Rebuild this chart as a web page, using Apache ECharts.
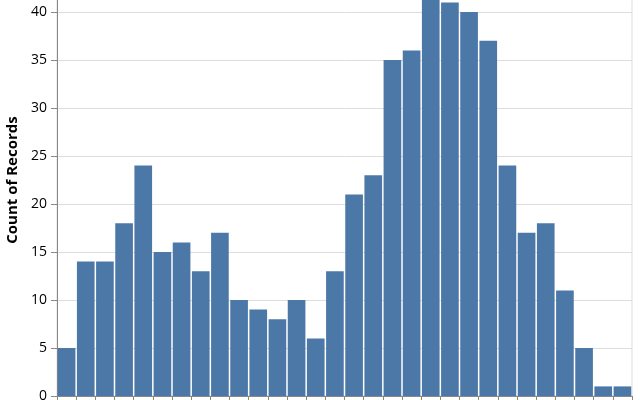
<!DOCTYPE html>
<html>
<head>
<meta charset="utf-8">
<script src="https://cdn.jsdelivr.net/npm/echarts@6/dist/echarts.min.js"></script>
<style>
  html, body { margin: 0; padding: 0; background: #fff; }
  #main { width: 640px; height: 400px; }
</style>
</head>
<body>
<div id="main"></div>
<script>
// 30 equal-width bins and their record counts
const bins = [];
for (let i = 0; i < 30; i++) bins.push('bin' + (i + 1));
const counts = [5, 14, 14, 18, 24, 15, 16, 13, 17, 10, 9, 8, 10, 6, 13,
                21, 23, 35, 36, 42, 41, 40, 37, 24, 17, 18, 11, 5, 1, 1];
const yMax = 45;
const yStep = 5;

const chart = echarts.init(document.getElementById('main'));
chart.setOption({
  animation: false,
  // the top of the plot runs above the window and is cut off
  grid: {
    left: 57, right: 8, top: -36, bottom: 4,
    outerBoundsMode: 'none',
    show: true, borderColor: '#ddd', borderWidth: 1
  },
  xAxis: {
    type: 'category',
    data: bins,
    boundaryGap: true,
    axisLine: { lineStyle: { color: '#888' } },
    axisTick: { show: true, interval: 0, alignWithLabel: false, length: 6, lineStyle: { color: '#888' } },
    axisLabel: { show: false }
  },
  yAxis: {
    type: 'value',
    min: 0,
    max: yMax,
    interval: yStep,
    name: 'Count of Records',
    nameLocation: 'middle',
    nameGap: 30,
    nameTextStyle: { fontFamily: 'Open Sans', fontWeight: 'bold', fontSize: 15, color: '#000' },
    axisLine: { show: true, lineStyle: { color: '#888' } },
    axisTick: { show: true, length: 6, lineStyle: { color: '#888' } },
    axisLabel: { fontFamily: 'Open Sans', fontSize: 14, color: '#000', margin: 10 },
    splitLine: { lineStyle: { color: '#ddd' } }
  },
  series: [{
    type: 'bar',
    data: counts,
    barCategoryGap: 1.5,
    itemStyle: { color: '#4c78a8' }
  }]
});
</script>
</body>
</html>
